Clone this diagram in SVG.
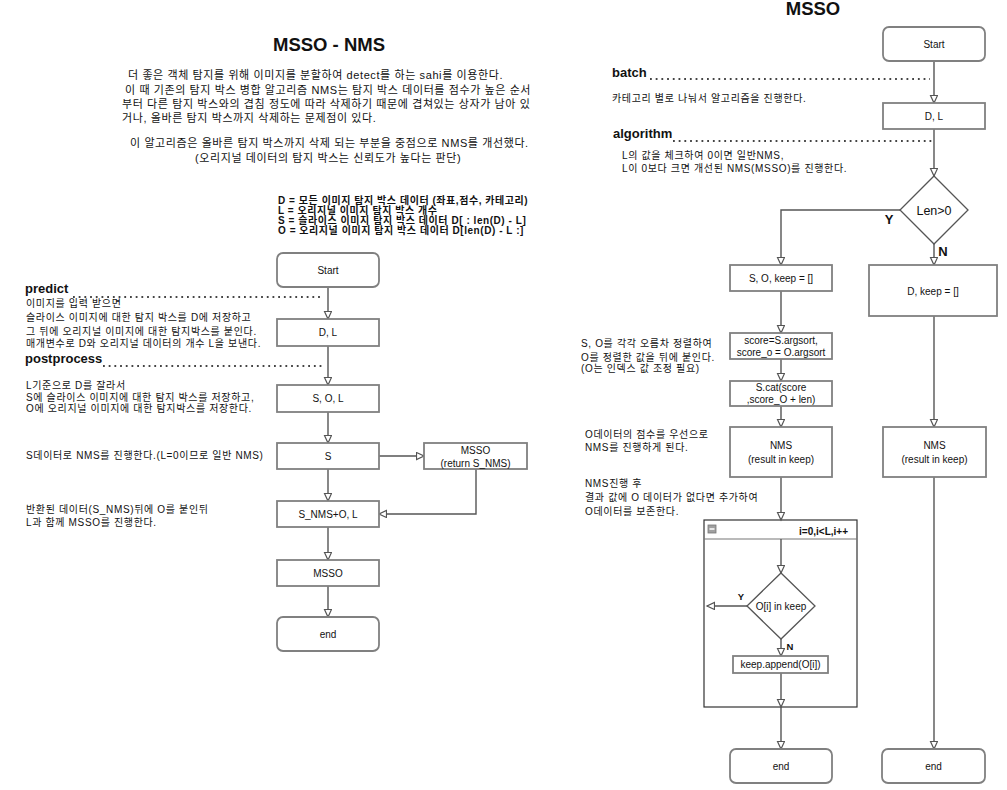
<svg xmlns="http://www.w3.org/2000/svg" width="1007" height="790" viewBox="0 0 1007 790">
  <defs>
    <marker id="arrow" markerUnits="userSpaceOnUse" markerWidth="10" markerHeight="10" refX="8" refY="4" orient="auto">
      <path d="M0.5,0.5 L8,4 L0.5,7.5 z" fill="#fff" stroke="#555" stroke-width="1.2"/>
    </marker>
    <style>
      text { font-family: "Liberation Sans", "Noto Sans CJK KR", sans-serif; fill: #111; }
      .title { font-size: 18.5px; font-weight: bold; text-anchor: middle; }
      .para { font-size: 11px; letter-spacing: 0.6px; }
      .note { font-size: 10px; letter-spacing: 0.65px; }
      .def { font-size: 10px; font-weight: bold; letter-spacing: 0.55px; }
      .loop-lbl { font-size: 10px; font-weight: bold; text-anchor: end; }
      .head { font-size: 13px; font-weight: bold; }
      .lbl { font-size: 10px; text-anchor: middle; }
      .yn { font-size: 13px; font-weight: bold; text-anchor: middle; }
      .yn-s { font-size: 9.5px; font-weight: bold; text-anchor: middle; }
      .box { fill: #fff; stroke: #808080; stroke-width: 1.8; }
      .diamond { fill: #fff; stroke: #555; stroke-width: 1.3; }
      .edge { fill: none; stroke: #555; stroke-width: 1.4; marker-end: url(#arrow); }
      .dots { fill: none; stroke: #444; stroke-width: 1.8; stroke-dasharray: 1.8 3.9; }
    </style>
  </defs>

  <rect width="1007" height="790" fill="#fff"/>

  <!-- left page: MSSO - NMS -->
  <text class="title" x="329" y="51">MSSO - NMS</text>
  <g id="intro">
    <text class="para" x="128" y="79">더 좋은 객체 탐지를 위해 이미지를 분할하여 detect를 하는 sahi를 이용한다.</text>
    <text class="para" x="125" y="94">이 때 기존의 탐지 박스 병합 알고리즘 NMS는 탐지 박스 데이터를 점수가 높은 순서</text>
    <text class="para" x="122" y="108">부터 다른 탐지 박스와의 겹침 정도에 따라 삭제하기 때문에 겹쳐있는 상자가 남아 있</text>
    <text class="para" x="122" y="122">거나, 올바른 탐지 박스까지 삭제하는 문제점이 있다.</text>
    <text class="para" x="130" y="147">이 알고리즘은  올바른 탐지 박스까지 삭제 되는 부분을 중점으로 NMS를 개선했다.</text>
    <text class="para" x="195" y="162">(오리지널 데이터의 탐지 박스는 신뢰도가 높다는 판단)</text>
  </g>
  <g id="definitions">
    <text class="def" x="278" y="204">D = 모든 이미지 탐지 박스 데이터 (좌표,점수, 카테고리)</text>
    <text class="def" x="278" y="214">L =  오리지널 이미지 탐지 박스 개수</text>
    <text class="def" x="278" y="224">S = 슬라이스 이미지 탐지 박스 데이터 D[ : len(D) - L]</text>
    <text class="def" x="278" y="234">O = 오리지널 이미지 탐지 박스 데이터 D[len(D) - L :]</text>
  </g>

  <g id="left-notes">
    <text class="head" x="25" y="293">predict</text>
    <line class="dots" x1="73" y1="297" x2="323" y2="297"/>
    <text class="note" x="26" y="307">이미지를 입력 받으면</text>
    <text class="note" x="26" y="321">슬라이스 이미지에 대한 탐지 박스를 D에 저장하고</text>
    <text class="note" x="26" y="334.5">그 뒤에 오리지널 이미지에 대한 탐지박스를  붙인다.</text>
    <text class="note" x="26" y="346.5">매개변수로 D와 오리지널 데이터의 개수 L을 보낸다.</text>
    <text class="head" x="25" y="363">postprocess</text>
    <line class="dots" x1="103" y1="366" x2="323" y2="366"/>
    <text class="note" x="26" y="388.5">L기준으로 D를 잘라서</text>
    <text class="note" x="26" y="400.5">S에 슬라이스 이미지에 대한 탐지 박스를 저장하고,</text>
    <text class="note" x="26" y="412">O에 오리지널 이미지에 대한 탐지박스를 저장한다.</text>
    <text class="note" x="26" y="458.5">S데이터로 NMS를 진행한다.(L=0이므로 일반 NMS)</text>
    <text class="note" x="26" y="512.5">반환된 데이터(S_NMS)뒤에 O를 붙인뒤</text>
    <text class="note" x="26" y="525.5">L과 함께 MSSO를 진행한다.</text>
  </g>

  <!-- left flow connectors -->
  <g id="left-edges">
    <path class="edge" d="M328,287 V319"/>
    <path class="edge" d="M328,346 V385"/>
    <path class="edge" d="M328,412 V443"/>
    <path class="edge" d="M328,469 V501"/>
    <path class="edge" d="M379,456 H424"/>
    <path class="edge" d="M476,469 V514 H379"/>
    <path class="edge" d="M328,527 V560"/>
    <path class="edge" d="M328,586 V617"/>
  </g>

  <!-- left flow nodes -->
  <g id="l-start"><rect class="box" x="277" y="253" width="102" height="34" rx="6"/><text class="lbl" x="328" y="273.5">Start</text></g>
  <g id="l-dl"><rect class="box" x="277" y="319" width="102" height="27"/><text class="lbl" x="328" y="336">D, L</text></g>
  <g id="l-sol"><rect class="box" x="277" y="385" width="102" height="27"/><text class="lbl" x="328" y="402">S, O, L</text></g>
  <g id="l-s"><rect class="box" x="277" y="443" width="102" height="26"/><text class="lbl" x="328" y="459.5">S</text></g>
  <g id="l-msso-ret"><rect class="box" x="424" y="443" width="103" height="26"/><text class="lbl" x="475.5" y="453.5">MSSO</text><text class="lbl" x="475.5" y="466.5">(return S_NMS)</text></g>
  <g id="l-snms"><rect class="box" x="277" y="501" width="102" height="26"/><text class="lbl" x="328" y="517.5">S_NMS+O, L</text></g>
  <g id="l-msso"><rect class="box" x="277" y="560" width="102" height="26"/><text class="lbl" x="328" y="576.5">MSSO</text></g>
  <g id="l-end"><rect class="box" x="277" y="617" width="102" height="34" rx="6"/><text class="lbl" x="328" y="637.5">end</text></g>

  <!-- right page: MSSO -->
  <text class="title" x="813" y="15">MSSO</text>
  <g id="right-notes">
    <text class="head" x="612" y="77">batch</text>
    <line class="dots" x1="650" y1="79" x2="930" y2="79"/>
    <text class="note" x="612" y="101.5">카테고리 별로 나눠서 알고리즘을 진행한다.</text>
    <text class="head" x="613" y="138">algorithm</text>
    <line class="dots" x1="673" y1="141" x2="933" y2="141"/>
    <text class="note" x="622" y="158.5">L의 값을 체크하여 0이면 일반NMS,</text>
    <text class="note" x="622" y="171.5">L이 0보다 크면 개선된 NMS(MSSO)를 진행한다.</text>
    <text class="note" x="581" y="346.5">S, O를 각각 오름차 정렬하여</text>
    <text class="note" x="581" y="360.5">O를 정렬한 값을 뒤에 붙인다.</text>
    <text class="note" x="581" y="372">(O는 인덱스 값 조정 필요)</text>
    <text class="note" x="585" y="437.5">O데이터의 점수를 우선으로</text>
    <text class="note" x="585" y="450.5">NMS를 진행하게 된다.</text>
    <text class="note" x="585" y="486.5">NMS진행 후</text>
    <text class="note" x="585" y="500.5">결과 값에 O 데이터가 없다면 추가하여</text>
    <text class="note" x="585" y="514.5">O데이터를 보존한다.</text>
  </g>

  <!-- loop container -->
  <g id="loop">
    <rect x="704" y="520" width="153" height="187" fill="#fff" stroke="#333" stroke-width="1.2"/>
    <line x1="704" y1="539" x2="857" y2="539" stroke="#777" stroke-width="1.2"/>
    <rect x="708" y="525" width="8" height="8" fill="#a0a0a0" stroke="#777" stroke-width="0.8"/>
    <line x1="709.5" y1="529" x2="714.5" y2="529" stroke="#fff" stroke-width="1.5"/>
    <text class="loop-lbl" x="848" y="535">i=0,i&lt;L,i++</text>
  </g>

  <!-- right flow connectors -->
  <g id="right-edges">
    <path class="edge" d="M934,61 V103"/>
    <path class="edge" d="M934,129 V176"/>
    <path class="edge" d="M900,210 H781 V265"/>
    <path class="edge" d="M934,244 V265"/>
    <path class="edge" d="M781,291 V333"/>
    <path class="edge" d="M781,359 V381"/>
    <path class="edge" d="M781,406 V427"/>
    <path class="edge" d="M934,316 V427"/>
    <path class="edge" d="M781,477 V520"/>
    <path class="edge" d="M781,539 V573"/>
    <path class="edge" d="M747,606 H707"/>
    <path class="edge" d="M781,639 V656"/>
    <path class="edge" d="M781,673 V707"/>
    <path class="edge" d="M781,707 V749"/>
    <path class="edge" d="M934,477 V749"/>
  </g>
  <g id="edge-labels">
    <text class="yn" x="889" y="224">Y</text>
    <text class="yn" x="943" y="256">N</text>
    <text class="yn-s" x="741" y="600">Y</text>
    <text class="yn-s" x="790" y="650">N</text>
  </g>

  <!-- right flow nodes -->
  <g id="r-start"><rect class="box" x="883" y="27" width="102" height="34" rx="6"/><text class="lbl" x="934" y="47.5">Start</text></g>
  <g id="r-dl"><rect class="box" x="883" y="103" width="102" height="26"/><text class="lbl" x="934" y="119.5">D, L</text></g>
  <g id="r-len"><path class="diamond" d="M934,176 L968,210 L934,244 L900,210 z"/><text x="934" y="214.5" text-anchor="middle" font-size="12.5">Len&gt;0</text></g>
  <g id="r-sokeep"><rect class="box" x="730" y="265" width="102" height="26"/><text class="lbl" x="781" y="281.5">S, O, keep = []</text></g>
  <g id="r-dkeep"><rect class="box" x="869" y="265" width="128" height="51"/><text class="lbl" x="933" y="294.5">D, keep = []</text></g>
  <g id="r-score"><rect class="box" x="730" y="333" width="102" height="26"/><text class="lbl" x="781" y="343.5">score=S.argsort,</text><text class="lbl" x="781" y="356">score_o = O.argsort</text></g>
  <g id="r-cat"><rect class="box" x="730" y="381" width="102" height="25"/><text class="lbl" x="781" y="390.5">S.cat(score</text><text class="lbl" x="781" y="403">,score_O + len)</text></g>
  <g id="r-nms-l"><rect class="box" x="730" y="427" width="102" height="50"/><text class="lbl" x="781" y="448.5">NMS</text><text class="lbl" x="781" y="462.5">(result in keep)</text></g>
  <g id="r-nms-r"><rect class="box" x="883" y="427" width="103" height="50"/><text class="lbl" x="934.5" y="448.5">NMS</text><text class="lbl" x="934.5" y="462.5">(result in keep)</text></g>
  <g id="r-inkeep"><path class="diamond" d="M781,573 L815,606 L781,639 L747,606 z"/><text class="lbl" x="781" y="609.5">O[i] in keep</text></g>
  <g id="r-append"><rect class="box" x="733" y="656" width="95" height="17"/><text class="lbl" x="780.5" y="668">keep.append(O[i])</text></g>
  <g id="r-end-l"><rect class="box" x="730" y="749" width="102" height="34" rx="6"/><text class="lbl" x="781" y="769.5">end</text></g>
  <g id="r-end-r"><rect class="box" x="882" y="749" width="103" height="34" rx="6"/><text class="lbl" x="933.5" y="769.5">end</text></g>
</svg>
